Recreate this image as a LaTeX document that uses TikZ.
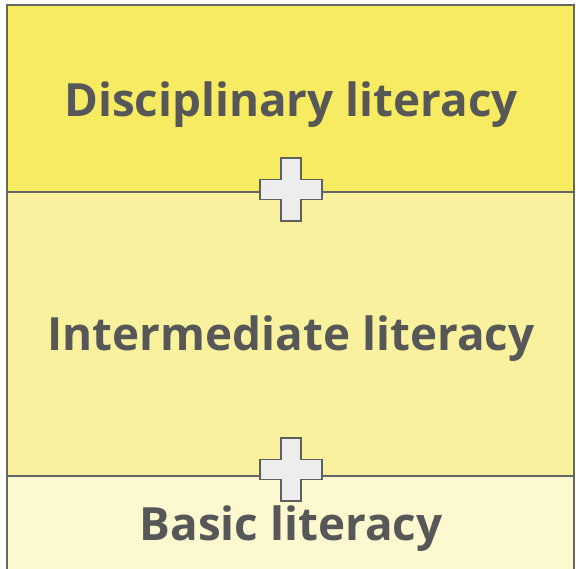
\documentclass[tikz,border=0pt]{standalone}
\usepackage{fontspec}
\setmainfont{Open Sans}
\begin{document}
\begin{tikzpicture}[x=1pt,y=-1pt,
  band/.style={draw=edgegray,line width=1.8pt},
  plus/.style={draw=plusgray,fill=plusfill,line width=1.8pt,line join=miter},
  lbl/.style={text=textgray,font=\fontsize{45.8}{54}\selectfont\bfseries,anchor=base,inner sep=0pt}]
\definecolor{edgegray}{HTML}{666666}
\definecolor{plusgray}{HTML}{5F5F5F}
\definecolor{plusfill}{HTML}{EDEDED}
\definecolor{textgray}{HTML}{575757}
\definecolor{topc}{HTML}{F6EB61}
\definecolor{midc}{HTML}{F9F19E}
\definecolor{botc}{HTML}{FCF8CF}
\useasboundingbox (0,0) rectangle (578,568);
\fill[white] (0,0) rectangle (578,568);
\path[band,fill=topc] (7,5) rectangle (574,192);
\path[band,fill=midc] (7,192) rectangle (574,476);
\path[band,fill=botc] (7,476) rectangle (574,575);
\node[lbl] (t1) at (291,116) {Disciplinary literacy};
\node[lbl] (t2) at (291,350) {Intermediate literacy};
\node[lbl] (t3) at (291,540) {Basic literacy};
\foreach \cy/\nm in {189.5/p1,469.5/p2}{
  \path[plus] (281,\cy-31.5) -- (301,\cy-31.5) -- (301,\cy-10) -- (322,\cy-10) -- (322,\cy+10) -- (301,\cy+10) -- (301,\cy+31.5) -- (281,\cy+31.5) -- (281,\cy+10) -- (260,\cy+10) -- (260,\cy-10) -- (281,\cy-10) -- cycle;
  \coordinate (\nm) at (291,\cy);
}
\end{tikzpicture}
\end{document}
